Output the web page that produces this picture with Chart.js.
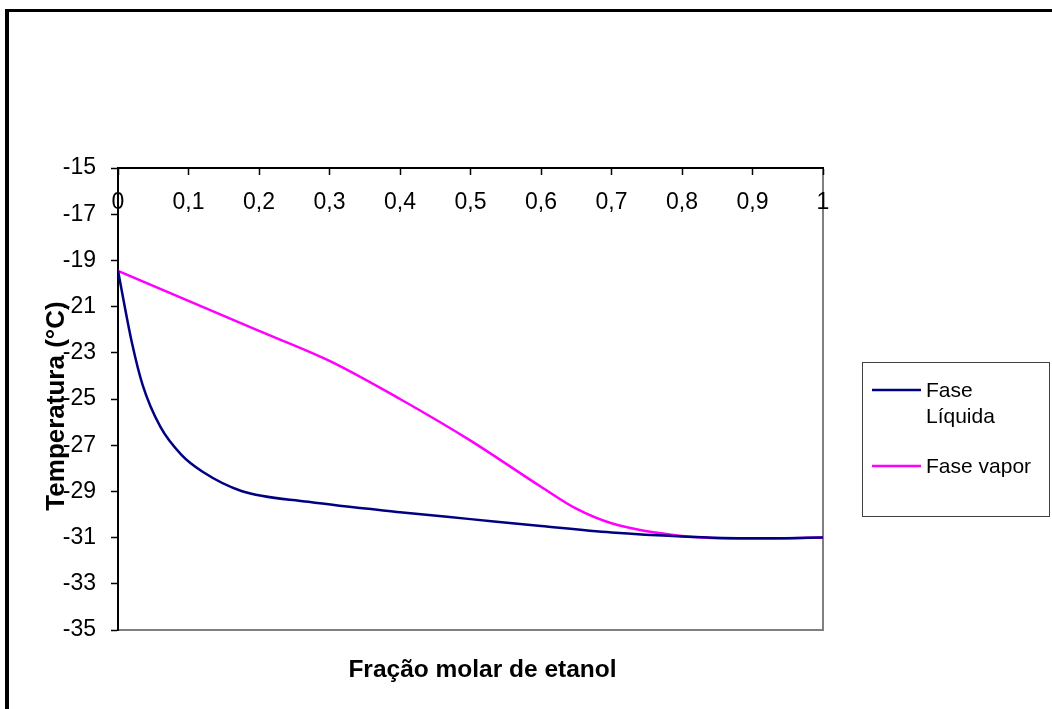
<!DOCTYPE html>
<html>
<head>
<meta charset="utf-8">
<script src="https://cdn.jsdelivr.net/npm/chart.js@4/dist/chart.umd.min.js"></script>
<style>
  html, body { margin: 0; padding: 0; background: #fff; }
  #wrap { width: 1052px; height: 709px; }
</style>
</head>
<body>
<div id="wrap"><canvas id="diagram" width="1052" height="709"></canvas></div>
<script>
// data
const liquidX = [0, 0.02, 0.035, 0.06, 0.09, 0.12, 0.175, 0.27, 0.4, 0.5, 0.6, 0.7, 0.8, 0.9, 1];
const liquidT = [-19.45, -22.6, -24.4, -26.2, -27.42, -28.15, -28.98, -29.45, -29.9, -30.2, -30.5, -30.78, -30.95, -31.03, -31.0];

const vaporX = [0, 0.1, 0.2, 0.3, 0.4, 0.5, 0.6, 0.65, 0.7, 0.8, 0.9, 1];
const vaporT = [-19.45, -20.75, -22.05, -23.35, -25.0, -26.8, -28.8, -29.75, -30.38, -30.93, -31.04, -31.0];

const xTickLabels = ['0', '0,1', '0,2', '0,3', '0,4', '0,5', '0,6', '0,7', '0,8', '0,9', '1'];
const legendLines = [['Fase', 'Líquida'], ['Fase vapor']];

const font = "'Liberation Sans', Arial, sans-serif";

function toPoints(xs, ys) {
  return xs.map((x, i) => ({ x: x, y: ys[i] }));
}

// outer frame, plot box, axis titles and the legend box
const decorations = {
  id: 'decorations',
  beforeDraw(chart) {
    const ctx = chart.ctx;
    ctx.save();
    ctx.fillStyle = '#fff';
    ctx.fillRect(0, 0, chart.width, chart.height);
    ctx.fillStyle = '#000';
    ctx.fillRect(5, 9, chart.width - 5, 3);
    ctx.fillRect(5, 9, 4, chart.height - 9);
    const a = chart.chartArea;
    ctx.strokeStyle = '#808080';
    ctx.lineWidth = 2;
    ctx.beginPath();
    ctx.moveTo(a.left, a.bottom);
    ctx.lineTo(a.right, a.bottom);
    ctx.lineTo(a.right, a.top);
    ctx.stroke();
    ctx.restore();
  },
  afterDraw(chart) {
    const ctx = chart.ctx;
    const a = chart.chartArea;
    ctx.save();
    ctx.fillStyle = '#000';
    ctx.textAlign = 'center';
    ctx.textBaseline = 'alphabetic';
    ctx.font = 'bold 24.5px ' + font;
    ctx.fillText('Fração molar de etanol', (a.left + a.right) / 2 + 12, 677);

    ctx.font = 'bold 26px ' + font;
    ctx.translate(64, 406);
    ctx.rotate(-Math.PI / 2);
    ctx.fillText('Temperatura (°C)', 0, 0);
    ctx.restore();

    // legend
    ctx.save();
    ctx.strokeStyle = '#404040';
    ctx.lineWidth = 1;
    ctx.strokeRect(862.5, 362.5, 187, 154);
    ctx.font = '21px ' + font;
    ctx.textAlign = 'left';
    ctx.textBaseline = 'alphabetic';
    const rows = [390, 466];
    chart.data.datasets.forEach((ds, i) => {
      const y = rows[i];
      ctx.strokeStyle = ds.borderColor;
      ctx.lineWidth = 2.5;
      ctx.beginPath();
      ctx.moveTo(872, y);
      ctx.lineTo(921, y);
      ctx.stroke();
      ctx.fillStyle = '#000';
      legendLines[i].forEach((line, j) => {
        ctx.fillText(line, 926, y + 7 + j * 26);
      });
    });
    ctx.restore();
  }
};

new Chart(document.getElementById('diagram'), {
  type: 'scatter',
  data: {
    datasets: [
      {
        label: 'Fase Líquida',
        data: toPoints(liquidX, liquidT),
        showLine: true,
        borderColor: '#000080',
        borderWidth: 2.5,
        pointRadius: 0,
        cubicInterpolationMode: 'monotone',
      },
      {
        label: 'Fase vapor',
        data: toPoints(vaporX, vaporT),
        showLine: true,
        borderColor: '#FF00FF',
        borderWidth: 2.5,
        pointRadius: 0,
        cubicInterpolationMode: 'monotone',
      },
    ],
  },
  options: {
    responsive: false,
    animation: false,
    layout: { padding: { left: 0, top: 168, right: 229, bottom: 79 } },
    plugins: { legend: { display: false }, tooltip: { enabled: false } },
    scales: {
      x: {
        type: 'linear',
        min: 0,
        max: 1,
        position: { y: -15 },
        ticks: {
          stepSize: 0.1,
          autoSkip: false,
          maxRotation: 0,
          padding: 15,
          color: '#000',
          font: { family: font, size: 23 },
          callback: (value, index) => xTickLabels[index],
        },
        grid: { drawOnChartArea: false, tickLength: 6, color: '#000', tickWidth: 1.5 },
        border: { color: '#000', width: 2 },
      },
      y: {
        min: -35,
        max: -15,
        ticks: {
          stepSize: 2,
          padding: 15,
          color: '#000',
          font: { family: font, size: 23 },
          callback: (value) => String(value),
        },
        grid: { drawOnChartArea: false, tickLength: 7, color: '#000', tickWidth: 1.5 },
        border: { color: '#000', width: 2 },
        afterFit: (scale) => { scale.width = 118; },
      },
    },
  },
  plugins: [decorations],
});
</script>
</body>
</html>
